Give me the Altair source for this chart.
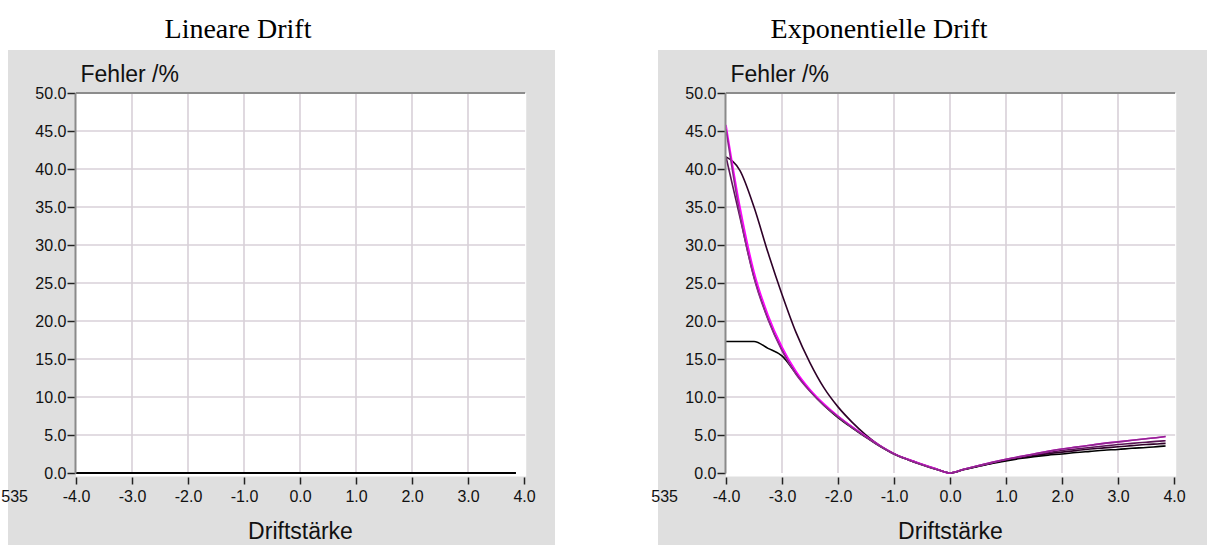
import altair as alt
import pandas as pd

# Driftstärke sample positions shared by every curve
drift = [-4.0, -3.75, -3.5, -3.25, -3.0, -2.75, -2.5, -2.25, -2.0, -1.75, -1.5, -1.25,
         -1.0, -0.75, -0.5, -0.25, 0.0, 0.25, 0.5, 0.75, 1.0, 1.25, 1.5, 1.75, 2.0,
         2.25, 2.5, 2.75, 3.0, 3.25, 3.5, 3.75, 3.85]

# Lineare Drift: every curve stays at zero error
lin_error = [0.0, 0.0, 0.0, 0.0, 0.0, 0.0, 0.0, 0.0, 0.0, 0.0, 0.0, 0.0,
             0.0, 0.0, 0.0, 0.0, 0.0, 0.0, 0.0, 0.0, 0.0, 0.0, 0.0, 0.0, 0.0,
             0.0, 0.0, 0.0, 0.0, 0.0, 0.0, 0.0, 0.0]

# Exponentielle Drift: error in percent for five curves
exp_magenta = [45.8, 35.0, 26.5, 20.8, 16.6, 13.4, 11.0, 9.1, 7.5, 6.1, 4.8, 3.6,
               2.55, 1.8, 1.15, 0.55, 0.0, 0.5, 0.95, 1.4, 1.8, 2.15, 2.5, 2.85, 3.15,
               3.4, 3.65, 3.9, 4.1, 4.3, 4.5, 4.7, 4.8]
exp_purple = [45.2, 34.0, 25.7, 20.2, 16.1, 13.0, 10.75, 8.9, 7.4, 6.0, 4.75, 3.55,
              2.5, 1.75, 1.1, 0.5, 0.0, 0.5, 0.95, 1.4, 1.8, 2.15, 2.5, 2.85, 3.15,
              3.4, 3.65, 3.9, 4.1, 4.3, 4.5, 4.7, 4.8]
exp_violet = [41.6, 33.6, 25.8, 20.3, 16.2, 13.1, 10.85, 8.95, 7.45, 6.05, 4.75, 3.55,
              2.5, 1.75, 1.1, 0.5, 0.0, 0.5, 0.95, 1.35, 1.75, 2.1, 2.4, 2.7, 2.95,
              3.15, 3.35, 3.55, 3.75, 3.9, 4.05, 4.2, 4.25]
exp_dark = [41.6, 39.8, 35.0, 29.0, 23.5, 18.5, 14.5, 11.2, 8.7, 6.7, 5.0, 3.6,
            2.55, 1.8, 1.15, 0.55, 0.0, 0.45, 0.9, 1.3, 1.7, 2.0, 2.3, 2.55, 2.75,
            2.95, 3.15, 3.3, 3.45, 3.6, 3.75, 3.85, 3.9]
exp_black = [17.3, 17.3, 17.3, 16.4, 15.4, 13.1, 10.8, 8.9, 7.3, 5.95, 4.7, 3.5,
             2.5, 1.75, 1.1, 0.5, 0.0, 0.45, 0.85, 1.25, 1.6, 1.9, 2.15, 2.35, 2.5,
             2.7, 2.85, 3.0, 3.1, 3.25, 3.35, 3.5, 3.55]

# curves listed in drawing order (first is drawn at the back)
curve_names = ["Kurve 5", "Kurve 4", "Kurve 3", "Kurve 1", "Kurve 2"]
curve_colors = ["#000000", "#2e0028", "#5a1456", "#ff00ff", "#8b2a8b"]

x_ticks = [-4.0, -3.0, -2.0, -1.0, 0.0, 1.0, 2.0, 3.0, 4.0]
y_ticks = [0.0, 5.0, 10.0, 15.0, 20.0, 25.0, 30.0, 35.0, 40.0, 45.0, 50.0]
grid_x = [-3.0, -2.0, -1.0, 0.0, 1.0, 2.0, 3.0]
grid_y = [5.0, 10.0, 15.0, 20.0, 25.0, 30.0, 35.0, 40.0, 45.0]
clipped_label = "535"

UI_FONT = "Liberation Sans, Arial, sans-serif"
SERIF = "Liberation Serif, Times New Roman, serif"
PANEL_GRAY = "#dfdfdf"
GRID = "#d8d0d8"

x_scale = alt.Scale(domain=[-4, 4], range=[68, 516], nice=False, zero=False)
y_scale = alt.Scale(domain=[0, 50], range=[423, 43], nice=False, zero=False)

x_axis = alt.Axis(
    values=x_ticks,
    labelExpr="(datum.value < 0 ? '-' : '') + format(abs(datum.value), '.1f')",
    domain=False, grid=False, ticks=True, tickSize=7, tickColor="#222222",
    tickWidth=1.5, labelFont=UI_FONT, labelFontSize=16, labelColor="#111111",
    labelPadding=4, labelFlush=False, labelOverlap=False, offset=-68,
    title="Driftstärke", titleFont=UI_FONT, titleFontSize=23,
    titleFontWeight="normal", titleColor="#111111", titleY=61,
    titleBaseline="alphabetic", zindex=2,
)
y_axis = alt.Axis(
    values=y_ticks, format=".1f", domain=True, domainColor="#8a8a8a",
    domainWidth=2, grid=False, tickSize=8, tickColor="#222222", tickWidth=1.5,
    labelFont=UI_FONT, labelFontSize=16, labelColor="#111111", labelPadding=1,
    labelFlush=False, labelOverlap=False, offset=-67,
    title="Fehler /%", titleFont=UI_FONT, titleFontSize=23,
    titleFontWeight="normal", titleColor="#111111", titleAngle=0,
    titleAlign="left", titleBaseline="alphabetic", titleX=5, titleY=31, zindex=2,
)


def long_frame(columns):
    rows = []
    for name, values in zip(curve_names, columns):
        for d, v in zip(drift, values):
            rows.append({"drift": d, "fehler": v, "kurve": name})
    return pd.DataFrame(rows)


def panel(frame, colors, title_text, title_x, width):
    one = pd.DataFrame({"a": [0]})
    # white strip above/left of the grey panel, fixing the page margin
    margin = alt.Chart(one).mark_rect(color="white").encode(
        x=alt.value(-8), x2=alt.value(0), y=alt.value(-50), y2=alt.value(0),
    )
    heading = alt.Chart(pd.DataFrame({"t": [title_text]})).mark_text(
        font=SERIF, fontSize=28, color="#000000", align="center", baseline="alphabetic"
    ).encode(text="t:N", x=alt.value(title_x), y=alt.value(-12))
    plot_area = alt.Chart(one).mark_rect(color="white").encode(
        x=alt.XDatum(-4, scale=x_scale, axis=x_axis), x2=alt.X2Datum(4.04),
        y=alt.YDatum(50, scale=y_scale, axis=y_axis), y2=alt.Y2Datum(-0.45),
    )
    vgrid = alt.Chart(pd.DataFrame({"gx": grid_x})).mark_rule(
        color=GRID, strokeWidth=1.6).encode(
        x=alt.X("gx:Q", scale=x_scale, axis=x_axis),
        y=alt.YDatum(0, scale=y_scale, axis=y_axis), y2=alt.Y2Datum(50),
    )
    hgrid = alt.Chart(pd.DataFrame({"gy": grid_y})).mark_rule(
        color=GRID, strokeWidth=1.6).encode(
        y=alt.Y("gy:Q", scale=y_scale, axis=y_axis),
        x=alt.XDatum(-4, scale=x_scale, axis=x_axis), x2=alt.X2Datum(4.02),
    )
    top_edge = alt.Chart(one).mark_rule(color="#8c8c8c", strokeWidth=2).encode(
        y=alt.YDatum(50, scale=y_scale, axis=y_axis),
        x=alt.XDatum(-4, scale=x_scale, axis=x_axis), x2=alt.X2Datum(4.02),
    )
    curves = [
        alt.Chart(frame).transform_filter(alt.datum.kurve == name).mark_line(
            color=color, strokeWidth=1.6, interpolate="monotone").encode(
            x=alt.X("drift:Q", scale=x_scale, axis=x_axis),
            y=alt.Y("fehler:Q", scale=y_scale, axis=y_axis),
        )
        for name, color in zip(curve_names, colors)
    ]
    stray = alt.Chart(pd.DataFrame({"t": [clipped_label]})).mark_text(
        font=UI_FONT, fontSize=16, color="#111111", align="right", baseline="middle"
    ).encode(text="t:N", x=alt.value(20), y=alt.value(447))
    return alt.layer(margin, heading, plot_area, vgrid, hgrid, top_edge, *curves,
                     stray).properties(width=width, height=495)


lin_frame = long_frame([lin_error, lin_error, lin_error, lin_error, lin_error])
exp_frame = long_frame([exp_black, exp_dark, exp_violet, exp_magenta, exp_purple])

left = panel(lin_frame, ["#000000"] * 5, "Lineare Drift", 230, 547)
right = panel(exp_frame, curve_colors, "Exponentielle Drift", 221, 549)

chart = alt.hconcat(left, right, spacing=103, bounds="flush").properties(
    padding=0
).configure_view(fill=PANEL_GRAY, strokeWidth=0)

chart.save("out.html", embed_options={"renderer": "svg", "actions": False})
